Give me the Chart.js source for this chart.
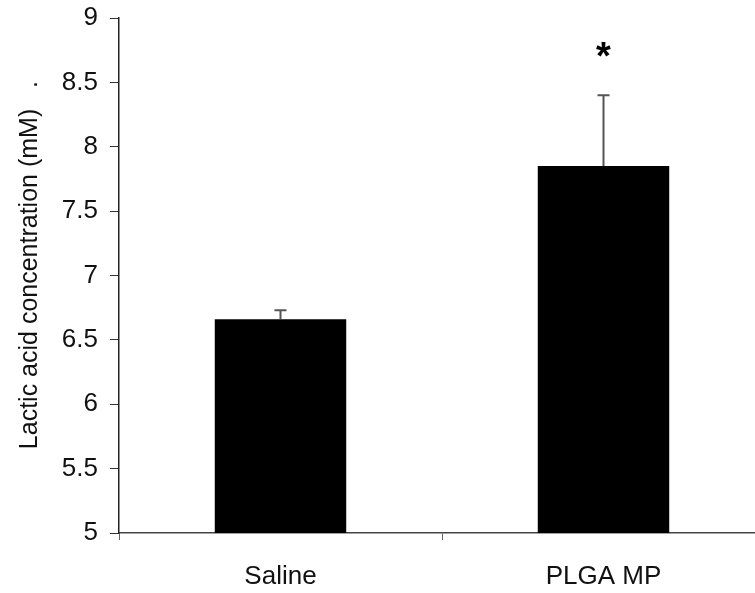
<!DOCTYPE html>
<html>
<head>
<meta charset="utf-8">
<script src="https://cdn.jsdelivr.net/npm/chart.js@4"></script>
<style>
  html, body { margin: 0; padding: 0; overflow: hidden; background: #fff; }
  #wrap { width: 755px; height: 593px; overflow: hidden; }
</style>
</head>
<body>
<div id="wrap"><canvas id="lacticChart" width="770" height="593"></canvas></div>
<script>
// chart data
const groups = ['Saline', 'PLGA MP'];
const lacticMeans = [6.66, 7.85];
const lacticErrors = [0.07, 0.55];
const significance = ['', '*'];
const yTicks = [5, 5.5, 6, 6.5, 7, 7.5, 8, 8.5, 9];

// draws the upper error bars and the significance mark
const errorBarPlugin = {
    id: 'errorBars',
    afterDatasetsDraw(chart) {
        const ctx = chart.ctx;
        const yScale = chart.scales.y;
        const meta = chart.getDatasetMeta(0);
        ctx.save();
        meta.data.forEach(function (bar, i) {
            const x = bar.x;
            const yTop = yScale.getPixelForValue(lacticMeans[i] + lacticErrors[i]);
            ctx.strokeStyle = '#555';
            ctx.lineWidth = 2;
            ctx.beginPath();
            ctx.moveTo(x, bar.y);
            ctx.lineTo(x, yTop);
            ctx.moveTo(x - 6, yTop);
            ctx.lineTo(x + 6, yTop);
            ctx.stroke();
            if (significance[i]) {
                ctx.fillStyle = '#000';
                ctx.font = 'bold 38px "Liberation Sans", Arial, sans-serif';
                ctx.textAlign = 'center';
                ctx.textBaseline = 'middle';
                ctx.fillText(significance[i], x, yTop - 37);
            }
        });
        ctx.restore();
    }
};

const ctx = document.getElementById('lacticChart').getContext('2d');

new Chart(ctx, {
    type: 'bar',
    data: {
        labels: groups,
        datasets: [{
            data: lacticMeans,
            backgroundColor: '#000',
            borderWidth: 0,
            barPercentage: 0.407,
            categoryPercentage: 1.0
        }]
    },
    options: {
        responsive: false,
        animation: false,
        layout: { padding: { top: 18, right: 5, left: 0, bottom: 0 } },
        plugins: {
            legend: { display: false },
            tooltip: { enabled: false }
        },
        scales: {
            x: {
                offset: true,
                grid: {
                    offset: true,
                    drawOnChartArea: false,
                    drawTicks: true,
                    tickLength: 7,
                    color: '#666'
                },
                border: { display: true, color: '#444', width: 1.5 },
                ticks: {
                    color: '#111',
                    padding: 21,
                    font: { family: '"Liberation Sans", Arial, sans-serif', size: 26 }
                },
                afterFit: function (scale) { scale.height = 60; }
            },
            y: {
                min: 5,
                max: 9,
                afterBuildTicks: function (scale) {
                    scale.ticks = yTicks.map(v => ({ value: v }));
                },
                grid: {
                    drawOnChartArea: false,
                    drawTicks: true,
                    tickLength: 9,
                    color: '#333'
                },
                border: { display: true, color: '#222', width: 1.5 },
                ticks: {
                    color: '#111',
                    padding: 12,
                    font: { family: '"Liberation Sans", Arial, sans-serif', size: 26 },
                    callback: function (value) { return String(value); }
                },
                title: {
                    display: true,
                    text: '   Lactic acid concentration (mM)   .',
                    color: '#111',
                    padding: { top: 15, bottom: 0 },
                    font: { family: '"Liberation Sans", Arial, sans-serif', size: 25 }
                },
                afterFit: function (scale) {
                    scale.width = 119;
                    scale.paddingTop = 0;
                    scale.paddingBottom = 0;
                }
            }
        }
    },
    plugins: [errorBarPlugin]
});
</script>
</body>
</html>
